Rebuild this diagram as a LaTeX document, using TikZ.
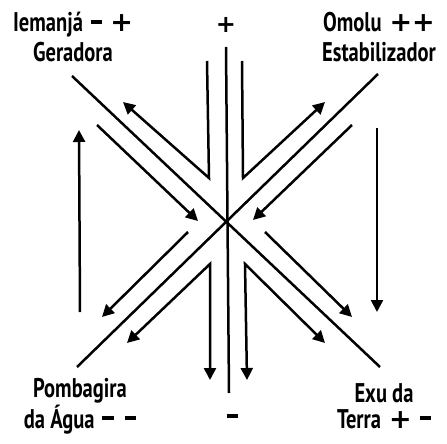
\documentclass[tikz,border=0pt]{standalone}
\usepackage{fontspec}
\setmainfont[FakeStretch=0.76,UprightFont=* Bold]{PT Sans}
\newfontfamily\symfont{DejaVu Sans Bold}
\newcommand{\pl}{{\symfont +}}
\newcommand{\mi}{\rule[0.3em]{0.42em}{0.13em}}
\newcommand{\gp}{\hspace{8pt}}
\newcommand{\gq}{\hspace{11pt}}
\usetikzlibrary{arrows.meta}
\tikzset{
  ln/.style={line width=2.5pt, line cap=butt, line join=miter},
  tip/.style={-{Triangle[length=12pt,width=12pt]}},
  lbl/.style={font=\fontsize{27}{26}\selectfont, anchor=base, inner sep=0pt, align=center},
  sym/.style={font=\fontsize{24}{26}\selectfont, anchor=center, inner sep=0pt}
}
\begin{document}
\begin{tikzpicture}[x=1pt,y=-1pt]
\useasboundingbox (0,0) rectangle (447,444);
% coordinates
\coordinate (nw) at (72,76);
\coordinate (se) at (380,367);
\coordinate (ne) at (378,74);
\coordinate (sw) at (77,367);
\coordinate (vt) at (226,47);
\coordinate (vb) at (229,393);
\coordinate (ulT) at (207,61);
\coordinate (ulV) at (209,178);
\coordinate (ulA) at (123,102);
\coordinate (urT) at (242,61);
\coordinate (urV) at (243,178);
\coordinate (urA) at (325,102);
\coordinate (llV) at (210,264);
\coordinate (llD) at (210,380);
\coordinate (llA) at (127,343);
\coordinate (lrV) at (245,264);
\coordinate (lrD) at (247,380);
\coordinate (lrA) at (325,343);
\coordinate (uo1) at (97,125);
\coordinate (uo2) at (198,221);
\coordinate (ro1) at (352,125);
\coordinate (ro2) at (253,220);
\coordinate (lo1) at (188,232);
\coordinate (lo2) at (102,317);
\coordinate (ko1) at (265,232);
\coordinate (ko2) at (352,317);
\coordinate (lv1) at (80,312);
\coordinate (lv2) at (79,130);
\coordinate (rv1) at (377,128);
\coordinate (rv2) at (377,312);
% main lines
\draw[ln] (nw) -- (se);
\draw[ln] (ne) -- (sw);
\draw[ln] (vt) -- (vb);
% chevrons
\draw[ln,tip] (ulT) -- (ulV) -- (ulA);
\draw[ln,tip] (urT) -- (urV) -- (urA);
\draw[ln,{Triangle[length=12pt,width=12pt]}-{Triangle[length=12pt,width=12pt]}] (llA) -- (llV) -- (llD);
\draw[ln,{Triangle[length=12pt,width=12pt]}-{Triangle[length=12pt,width=12pt]}] (lrA) -- (lrV) -- (lrD);
% outer arrows
\draw[ln,tip] (uo1) -- (uo2);
\draw[ln,tip] (ro1) -- (ro2);
\draw[ln,tip] (lo1) -- (lo2);
\draw[ln,tip] (ko1) -- (ko2);
\draw[ln,tip] (lv1) -- (lv2);
\draw[ln,tip] (rv1) -- (rv2);
% labels
\node[lbl] (iem) at (73,62) {Iemanjá\gp\mi\gp\pl\\[4pt]Geradora};
\node[lbl] (omo) at (379,62) {Omolu\gp\pl\pl\\[4pt]Estabilizador};
\node[lbl] (pom) at (80,428) {Pombagira\\da Água\gp\mi\gq\mi};
\node[lbl] (exu) at (384,428) {Exu da\\Terra\gp\pl\gp\mi};
\node[sym] (plus) at (226,25) {\pl};
\node[sym] (minus) at (232,416) {\rule{11pt}{3.5pt}};
\end{tikzpicture}
\end{document}
